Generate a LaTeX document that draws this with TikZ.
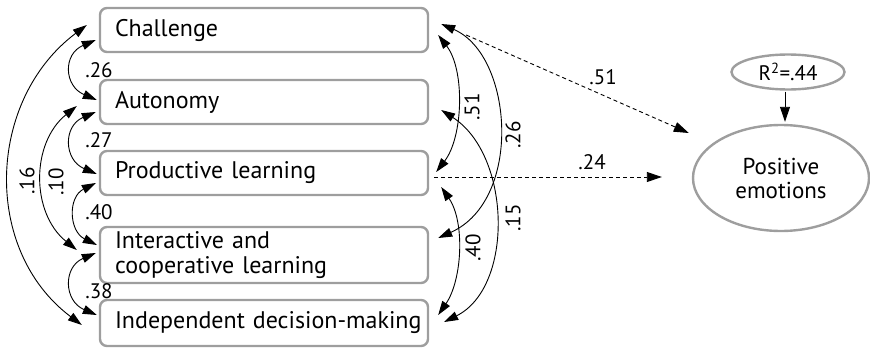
\documentclass[tikz,border=0pt]{standalone}
\usepackage{fontspec}
\setmainfont{PT Sans}
\usetikzlibrary{arrows.meta,shapes.geometric,calc}
\definecolor{framegray}{HTML}{9E9E9E}
\newcommand\bxfont{\fontsize{24}{25}\selectfont}
\newcommand\lbfont{\fontsize{21}{23}\selectfont}
\newcommand\elfont{\fontsize{23}{24}\selectfont}
\tikzset{
  var/.style={draw=framegray, line width=2.4pt, rounded corners=7pt,
    text width=298pt, inner xsep=15pt, inner ysep=0pt, align=left,
    font=\bxfont, minimum height=44pt},
  latent/.style={draw=framegray, line width=2.4pt, ellipse, inner sep=0pt,
    align=center, font=\elfont},
  corr/.style={line width=0.9pt,
    {Triangle[length=14pt,width=9pt]}-{Triangle[length=14pt,width=9pt]}},
  effect/.style={line width=0.9pt, dash pattern=on 4pt off 3pt,
    -{Triangle[length=15pt,width=10pt]}},
  coef/.style={font=\lbfont, inner sep=0pt},
}
\begin{document}
\begin{tikzpicture}[x=1pt,y=-1pt]
\useasboundingbox (0,0) rectangle (870,348);

% predictor boxes
\node[var] (ch) at (264,30) {Challenge};
\node[var] (au) at (264,102) {Autonomy};
\node[var] (pl) at (264,173) {Productive learning};
\node[var, minimum height=56pt] (ic) at (264,255) {Interactive and\\cooperative learning};
\node[var, minimum height=46pt] (id) at (264,323) {\mbox{Independent decision-making}\hss};

% outcome
\node[latent, minimum width=176pt, minimum height=106pt] (pe) at (781,178) {Positive\\emotions};
\node[latent, font=\lbfont, minimum width=113pt, minimum height=35pt] (r2) at (788,72) {R\textsuperscript{2}=.44};
\draw[line width=0.9pt, -{Triangle[length=15pt,width=10pt]}]
  ($(r2.south)+(-3,1)$) -- ($(pe.north)+(4,-2)$);

% correlations, left side
\draw[corr] ($(ch.west)+(-3,10)$) .. controls +(-33,14) and +(-33,-14) .. ($(au.west)+(-2,-2)$);
\draw[corr] ($(au.west)+(-3,10)$) .. controls +(-33,14) and +(-33,-14) .. ($(pl.west)+(-2,1)$);
\draw[corr] ($(pl.west)+(-3,10)$) .. controls +(-28,14) and +(-28,-14) .. ($(ic.west)+(-2,-10)$);
\draw[corr] ($(ic.west)+(-3,-2)$) .. controls +(-33,14) and +(-33,-14) .. ($(id.west)+(-2,-8)$);
\draw[corr] ($(au.west)+(-22,4)$) .. controls +(-46,37) and +(-46,-37) .. ($(ic.west)+(-22,-5)$);
\draw[corr] ($(ch.west)+(-12,-5)$) .. controls +(-100,75) and +(-100,-75) .. ($(id.west)+(-17,2)$);

\node[coef] at (99,70) {.26};
\node[coef] at (99,140) {.27};
\node[coef] at (99,212) {.40};
\node[coef] at (99,291) {.38};
\node[coef, rotate=90] at (27,181) {.16};
\node[coef, rotate=90] at (56,182) {.10};

% correlations, right side
\draw[corr] ($(ch.east)+(9,5)$) .. controls +(27,35) and +(27,-35) .. ($(pl.east)+(7,-1)$);
\draw[corr] ($(ch.east)+(12,-6)$) .. controls +(72,31) and +(85,-38) .. ($(ic.east)+(9,-17)$);
\draw[corr] ($(au.east)+(12,8)$) .. controls +(70,45) and +(70,-35) .. ($(id.east)+(15,-1)$);
\draw[corr] ($(pl.east)+(12,14)$) .. controls +(24,35) and +(24,-35) .. ($(id.east)+(9,-8)$);

\node[coef, rotate=90] at (472,107) {.51};
\node[coef, rotate=90] at (513,135) {.26};
\node[coef, rotate=90] at (513,218) {.15};
\node[coef, rotate=90] at (473,248) {.40};

% paths to positive emotions
\draw[effect] ($(ch.east)+(37,5)$) -- ($(pe.west)+(-3,-45)$);
\draw[effect] ($(pl.east)+(5,4)$) -- ($(pe.west)+(-30,-1)$);
\node[coef] at (603,77) {.51};
\node[coef] at (592,162) {.24};
\end{tikzpicture}
\end{document}
